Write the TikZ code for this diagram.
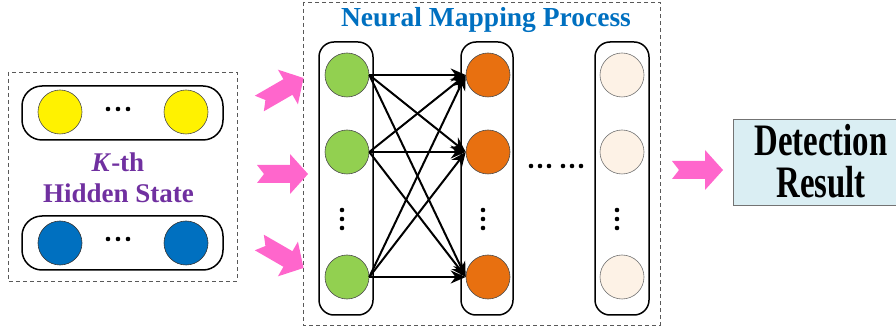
\documentclass[tikz,border=0pt]{standalone}
\usepackage{fontspec}
\setmainfont{Liberation Serif}
\usetikzlibrary{arrows.meta}

\definecolor{hidpurple}{RGB}{112,48,160}
\definecolor{mapblue}{RGB}{0,112,192}
\definecolor{arrowpink}{RGB}{255,102,204}
\definecolor{neurgreen}{RGB}{146,208,80}
\definecolor{neurorange}{RGB}{232,112,16}
\definecolor{neurcream}{RGB}{253,242,230}
\definecolor{resultblue}{RGB}{218,238,243}

\tikzset{
  neuron/.style={circle, draw=black!70, line width=0.6pt, minimum size=44pt, inner sep=0pt},
  layer/.style={draw, line width=1.5pt, rounded corners=15pt, inner sep=0pt},
  groupbox/.style={draw=black!65, line width=0.9pt, dash pattern=on 4pt off 3pt},
  link/.style={line width=2pt, -{Stealth[length=15pt,width=13pt]}},
  pics/fatarrow/.style={code={
    \fill[arrowpink] (-25,9) -- (8,9) -- (8,20) -- (26,0) -- (8,-20) -- (8,-9) -- (-25,-9) -- (-18,0) -- cycle;
  }},
}

\begin{document}
\begin{tikzpicture}[x=1pt, y=-1pt]
        \useasboundingbox (0,0) rectangle (896,328);

        % Frames
        \draw[groupbox] (8,72) rectangle (237,281);
        \draw[groupbox] (303,2) rectangle (660,325);

        % Hidden state
        \node (toppill) [layer, rounded corners=20pt, minimum width=201pt, minimum height=54pt] at (122.5,113) {};
        \node (botpill) [layer, rounded corners=20pt, minimum width=201pt, minimum height=54pt] at (122.5,243) {};
        \node (y1) [neuron, fill=yellow] at (60,112) {};
        \node (y2) [neuron, fill=yellow] at (186,112) {};
        \node (b1) [neuron, fill=mapblue, draw=black!80] at (60,243) {};
        \node (b2) [neuron, fill=mapblue, draw=black!80] at (186,243) {};
        \foreach \x in {108,118,128} {
          \fill (\x,109) circle (2.3pt);
          \fill (\x,239) circle (2.3pt);
        }
        \node (kth) [anchor=base, text=hidpurple, font=\fontsize{27}{31}\selectfont\bfseries] at (118,172) {\textit{K}-th};
        \node (hidden) [anchor=base, text=hidpurple, font=\fontsize{27}{31}\selectfont\bfseries] at (118.5,203) {Hidden State};

        % Inputs into the mapping
        \pic (in1) [rotate=30] at (281,91) {fatarrow};
        \pic (in2) at (282,174) {fatarrow};
        \pic (in3) [rotate=-30] at (281,255) {fatarrow};

        % Neural mapping process
        \node (title) [anchor=base, text=mapblue, font=\fontsize{27.5}{31}\selectfont\bfseries] at (486,27) {Neural Mapping Process};
        \node (layer1) [layer, minimum width=54pt, minimum height=273pt] at (346,178.5) {};
        \node (layer2) [layer, minimum width=52pt, minimum height=273pt] at (487,178.5) {};
        \node (layer3) [layer, minimum width=54pt, minimum height=273pt] at (622,178.5) {};

        \node (g1) [neuron, fill=neurgreen] at (347,75) {};
        \node (g2) [neuron, fill=neurgreen] at (347,152) {};
        \node (g3) [neuron, fill=neurgreen] at (347,277) {};
        \node (o1) [neuron, fill=neurorange] at (488,75) {};
        \node (o2) [neuron, fill=neurorange] at (488,152) {};
        \node (o3) [neuron, fill=neurorange] at (488,277) {};
        \node (c1) [neuron, fill=neurcream, draw=black!55] at (622,75) {};
        \node (c2) [neuron, fill=neurcream, draw=black!55] at (622,152) {};
        \node (c3) [neuron, fill=neurcream, draw=black!55] at (622,277) {};

        \foreach \x in {342,483,617}
          \foreach \y in {210,219,228}
            \fill (\x,\y) circle (2.3pt);
        \foreach \x in {531,540,549,563,572,581}
          \fill (\x,166) circle (2.3pt);

        % Edges
        \foreach \i in {1,2,3}
          \foreach \j in {1,2,3}
            \draw[link] (g\i.east) -- (o\j.west);

        % Output
        \pic (out) at (697,170) {fatarrow};
        \node (result) [draw=black!55, fill=resultblue, line width=0.8pt, minimum width=164pt, minimum height=86pt, inner sep=0pt] at (815,162) {};
        \node (resultlabel) [inner sep=0pt, font=\fontsize{45}{34}\selectfont\bfseries] at (821,166)
          {\scalebox{0.73}[1]{\begin{tabular}{@{}c@{}}Detection\\Result\end{tabular}}};

    \end{tikzpicture}
\end{document}
